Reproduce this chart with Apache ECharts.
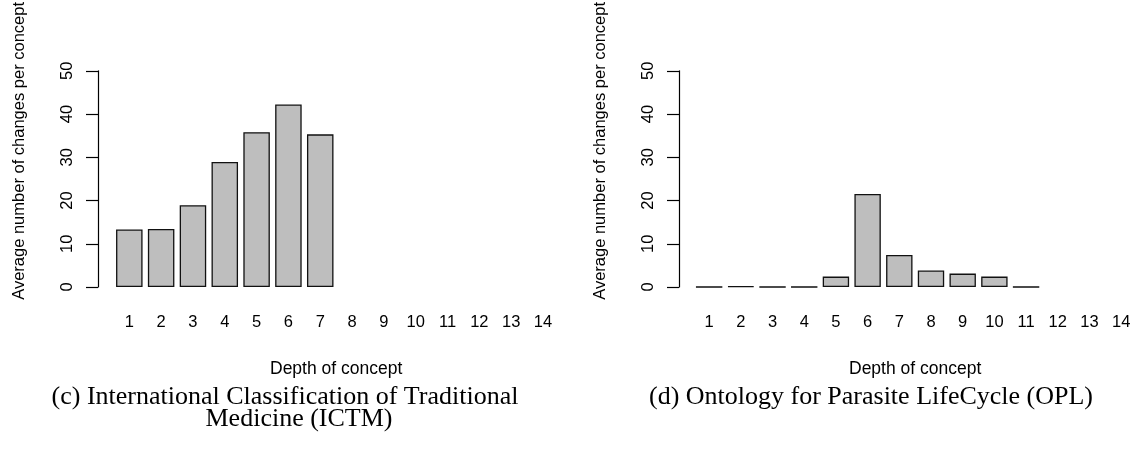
<!DOCTYPE html>
<html>
<head>
<meta charset="utf-8">
<script src="https://cdn.jsdelivr.net/npm/echarts@6/dist/echarts.min.js"></script>
<style>
  html, body { margin: 0; padding: 0; background: #fff; }
  #chart { width: 1137px; height: 452px; }
</style>
</head>
<body>
<div id="chart"></div>
<script>
// ---- data ----
const depthCategories = ['1','2','3','4','5','6','7','8','9','10','11','12','13','14'];
const ictmValues = [13.3, 13.4, 18.9, 28.9, 35.8, 42.2, 35.3, null, null, null, null, null, null, null];
const oplValues  = [0, 0.15, 0, 0, 2.4, 21.5, 7.4, 3.8, 3.1, 2.4, 0, null, null, null];
const yMin = 0;
const yMax = 50;
const yInterval = 10;
const yAxisTitle = 'Average number of changes per concept';
const xAxisTitle = 'Depth of concept';
const captionC1 = '(c) International Classification of Traditional';
const captionC2 = 'Medicine (ICTM)';
const captionD = '(d) Ontology for Parasite LifeCycle (OPL)';

// ---- styles ----
const SANS = 'Liberation Sans, Arial, Helvetica, sans-serif';
const SERIF = 'Liberation Serif, Times New Roman, serif';
const FS = 16.5;
const ink = '#000';

function yAxisCfg(gridIndex, offset) {
  return {
    type: 'value', gridIndex, min: yMin, max: yMax, interval: yInterval,
    position: 'left', offset,
    axisLine: { show: true, lineStyle: { color: ink, width: 1.2 } },
    axisTick: { show: true, length: 12, lineStyle: { color: ink, width: 1.2 } },
    splitLine: { show: false },
    axisLabel: { rotate: 90, margin: 22, fontFamily: SANS, fontSize: FS, color: ink },
    name: yAxisTitle, nameLocation: 'middle', nameGap: 70, nameRotate: 90,
    nameTextStyle: { fontFamily: SANS, fontSize: FS, color: ink, padding: [0, 0, 0, 56] }
  };
}
function xAxisCfg(gridIndex) {
  return {
    type: 'category', gridIndex, data: depthCategories,
    axisLine: { show: false }, axisTick: { show: false },
    axisLabel: { margin: 27, fontFamily: SANS, fontSize: FS, color: ink, interval: 0 },
    name: xAxisTitle, nameLocation: 'middle', nameGap: 73,
    nameTextStyle: { fontFamily: SANS, fontSize: 17.5, color: ink }
  };
}
function barSeries(idx, data) {
  return {
    type: 'bar', xAxisIndex: idx, yAxisIndex: idx, data,
    barWidth: '83.3%',
    itemStyle: { color: '#bebebe', borderColor: '#111', borderWidth: 1.3 },
    emphasis: { disabled: true }, silent: true, animation: false
  };
}

const chart = echarts.init(document.getElementById('chart'), null, { renderer: 'canvas' });
chart.setOption({
  backgroundColor: '#fff',
  animation: false,
  grid: [
    { left: 113.4, width: 445.5, top: 70.7, height: 216.3 },
    { left: 693.3, width: 448, top: 70.7, height: 216.3 }
  ],
  xAxis: [xAxisCfg(0), xAxisCfg(1)],
  yAxis: [yAxisCfg(0, 15.4), yAxisCfg(1, 14.3)],
  series: [barSeries(0, ictmValues), barSeries(1, oplValues)],
  graphic: [
    { type: 'text', style: { text: captionC1, x: 285, y: 397, textAlign: 'center', textVerticalAlign: 'middle', font: '26px ' + SERIF, fill: '#000' } },
    { type: 'text', style: { text: captionC2, x: 299, y: 419, textAlign: 'center', textVerticalAlign: 'middle', font: '26px ' + SERIF, fill: '#000' } },
    { type: 'text', style: { text: captionD, x: 871, y: 397, textAlign: 'center', textVerticalAlign: 'middle', font: '26px ' + SERIF, fill: '#000' } }
  ]
});
</script>
</body>
</html>
